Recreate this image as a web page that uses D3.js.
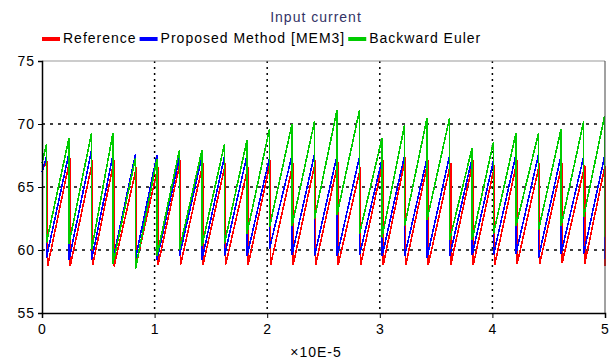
<!DOCTYPE html>
<html>
<head>
<meta charset="utf-8">
<script src="https://cdn.jsdelivr.net/npm/d3@7"></script>
<style>
  body { margin: 0; background: #fff; }
  text { font-family: Arial, 'Liberation Sans', sans-serif; font-size: 14px; letter-spacing: 1px; }
</style>
</head>
<body>
<div id="chart"></div>
<script>
'use strict';

var outerWidth = 611;
var outerHeight = 364;

// time axis is in units of 1e-5 s
var xTicks = [0, 1, 2, 3, 4, 5];
var yTicks = [55, 60, 65, 70, 75];
var gridX = [1, 2, 3, 4];
var gridY = [60, 65, 70];

var seriesNames = ['Reference', 'Proposed Method [MEM3]', 'Backward Euler'];
var seriesColors = ['#ff0000', '#0000ff', '#00cc00'];

// time of every switching drop
var dropTimes = [0.04, 0.24, 0.44, 0.63, 0.83, 1.02, 1.22, 1.42, 1.62, 1.82,
                 2.02, 2.22, 2.42, 2.62, 2.82, 3.02, 3.22, 3.42, 3.62, 3.82,
                 4.01, 4.21, 4.41, 4.61, 4.81, 4.995];

// the reference drops about one sample later than the other two
var dropLag = [0.01, 0, 0];

// value at t = 0
var startValues = [66.4, 66.2, 66.9];

// value just before each drop (top of the ramp)
var refPeaks = [67.0, 67.3, 67.1, 67.1, 66.6, 66.6, 67.1, 66.9, 66.9, 66.6,
                67.1, 66.9, 67.1, 67.0, 66.6, 67.1, 67.4, 67.1, 66.9, 67.1,
                66.7, 67.1, 66.9, 66.9, 66.7, 66.7];
var memPeaks = [67.4, 67.7, 67.9, 67.5, 67.6, 67.5, 67.3, 67.4, 67.4, 67.5,
                67.3, 67.5, 67.6, 67.5, 67.4, 67.2, 67.5, 67.3, 67.5, 67.3,
                67.1, 67.6, 67.6, 67.5, 67.4, 67.4];
var beulerPeaks = [68.4, 68.9, 69.3, 69.3, 67.3, 67.2, 67.9, 67.9, 68.4, 68.7,
                   69.6, 70.0, 70.2, 71.1, 71.1, 68.9, 69.9, 70.5, 70.5, 68.1,
                   68.6, 69.3, 69.3, 69.6, 70.2, 70.6];

// value just after each drop (bottom of the ramp)
var refTroughs = [58.7, 58.7, 58.8, 58.7, 59.0, 58.8, 58.8, 58.8, 58.8, 58.8,
                  58.8, 58.8, 58.8, 58.8, 58.8, 58.8, 58.8, 58.8, 58.8, 58.8,
                  58.8, 58.9, 58.9, 59.0, 58.9, 58.7];
var memTroughs = [59.4, 59.2, 59.2, 59.2, 59.3, 59.2, 59.5, 59.2, 59.5, 59.5,
                  60.1, 59.6, 59.5, 59.5, 59.6, 59.5, 59.5, 59.4, 59.5, 59.6,
                  59.6, 59.7, 59.4, 59.7, 59.7, 59.3];
var beulerTroughs = [60.6, 60.5, 60.0, 58.9, 58.5, 59.5, 60.0, 60.3, 60.5, 61.3,
                     61.8, 61.9, 62.5, 62.8, 61.3, 61.0, 61.9, 62.4, 60.8, 60.8,
                     61.3, 61.9, 61.6, 61.9, 62.6, 61.0];

var peaks = [refPeaks, memPeaks, beulerPeaks];
var troughs = [refTroughs, memTroughs, beulerTroughs];

var margin = {top: 61, right: 6, bottom: 51, left: 42};
var width = outerWidth - margin.left - margin.right;
var height = outerHeight - margin.top - margin.bottom;

var svg = d3.select('#chart').append('svg')
  .attr('width', outerWidth)
  .attr('height', outerHeight);

var g = svg.append('g')
  .attr('transform', 'translate(' + margin.left + ',' + margin.top + ')');

var xScale = d3.scaleLinear().domain([0, 5]).range([0, width]);
var yScale = d3.scaleLinear().domain([55, 75]).range([height, 0]);

// title and legend
svg.append('text')
  .attr('x', 316)
  .attr('y', 22)
  .attr('text-anchor', 'middle')
  .attr('fill', '#333366')
  .text('Input current');

var legend = svg.append('g').attr('transform', 'translate(42,0)');
var lx = 0;
seriesNames.forEach(function(name, i){
  legend.append('rect')
    .attr('x', lx).attr('y', 37)
    .attr('width', 18).attr('height', 4)
    .attr('fill', seriesColors[i]);
  var t = legend.append('text')
    .attr('x', lx + 21)
    .attr('y', 43)
    .attr('fill', '#000')
    .text(name);
  lx += 21 + t.node().getComputedTextLength() + 3;
});

// dotted grid
g.selectAll('.gridx').data(gridX).enter().append('line')
  .attr('x1', function(d){return xScale(d);})
  .attr('x2', function(d){return xScale(d);})
  .attr('y1', 0).attr('y2', height)
  .attr('stroke', '#000')
  .attr('stroke-width', 1.5)
  .attr('stroke-dasharray', '2,4');

g.selectAll('.gridy').data(gridY).enter().append('line')
  .attr('x1', 0).attr('x2', width)
  .attr('y1', function(d){return yScale(d);})
  .attr('y2', function(d){return yScale(d);})
  .attr('stroke', '#000')
  .attr('stroke-width', 1.5)
  .attr('stroke-dasharray', '3,5');

// build each waveform: ramp up to the peak, then a vertical drop
function points(s){
  var pts = [[0, startValues[s]]];
  dropTimes.forEach(function(t, i){
    var td = Math.min(5, t + dropLag[s]);
    pts.push([td, peaks[s][i]]);
    pts.push([td, troughs[s][i]]);
  });
  return pts;
}

var line = d3.line()
  .x(function(d){return xScale(d[0]);})
  .y(function(d){return yScale(d[1]);});

g.selectAll('.series').data([0, 1, 2]).enter().append('path')
  .attr('d', function(s){return line(points(s));})
  .attr('fill', 'none')
  .attr('stroke', function(s){return seriesColors[s];})
  .attr('stroke-width', 1.6)
  .attr('shape-rendering', 'crispEdges');

// frame: grey top/right, black left/bottom axes
g.append('line').attr('x1', 0).attr('x2', width).attr('y1', 0).attr('y2', 0)
  .attr('stroke', '#999');
g.append('line').attr('x1', width).attr('x2', width).attr('y1', 0).attr('y2', height)
  .attr('stroke', '#444');

var xAxis = d3.axisBottom(xScale).tickValues(xTicks).tickSize(5).tickPadding(6)
  .tickFormat(d3.format('d'));
var yAxis = d3.axisLeft(yScale).tickValues(yTicks).tickSize(4).tickPadding(3)
  .tickFormat(d3.format('d'));

var gx = g.append('g').attr('transform', 'translate(0,' + height + ')').call(xAxis);
var gy = g.append('g').call(yAxis);

[gx, gy].forEach(function(a){
  a.select('.domain').attr('stroke', '#000').attr('stroke-width', 1.5);
  a.selectAll('.tick line').attr('stroke', '#000');
  a.selectAll('.tick text')
    .attr('fill', '#000')
    .style('font-family', "Arial, 'Liberation Sans', sans-serif")
    .style('font-size', '14px');
});

svg.append('text')
  .attr('x', 316)
  .attr('y', 357)
  .attr('text-anchor', 'middle')
  .attr('fill', '#000')
  .text('\u00d710E-5');
</script>
</body>
</html>
